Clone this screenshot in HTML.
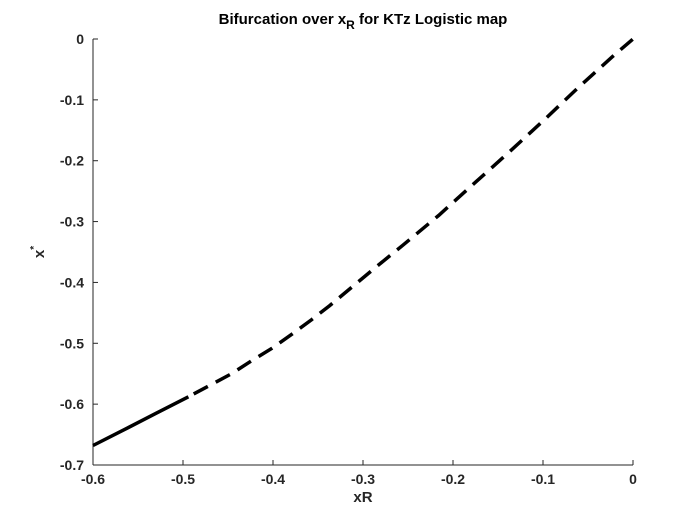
<!DOCTYPE html>
<html><head><meta charset="utf-8"><style>
body{margin:0;background:#fff}
svg text{font-family:"Liberation Sans",Arial,sans-serif;font-weight:bold;fill:#262626}
</style></head><body>
<svg id="chart" width="700" height="525" viewBox="0 0 700 525" xmlns="http://www.w3.org/2000/svg">
<rect width="700" height="525" fill="#fff"/>
<g id="axes"></g>
<g id="series"></g>
<text x="363" y="24" font-size="15" text-anchor="middle" style="fill:#000">Bifurcation over x<tspan font-size="12" dy="5">R</tspan><tspan dy="-5"> for KTz Logistic map</tspan></text>
<text x="363" y="502" font-size="15" text-anchor="middle">xR</text>
<g transform="translate(44,252) rotate(-90)"><text x="0" y="0" font-size="15" text-anchor="middle">x<tspan font-size="10" dy="-7">*</tspan></text></g>
</svg>
<script>
const xTicks=[-0.6,-0.5,-0.4,-0.3,-0.2,-0.1,0];
const yTicks=[0,-0.1,-0.2,-0.3,-0.4,-0.5,-0.6,-0.7];
const xTickLabels=["-0.6","-0.5","-0.4","-0.3","-0.2","-0.1","0"];
const yTickLabels=["0","-0.1","-0.2","-0.3","-0.4","-0.5","-0.6","-0.7"];
const stableX=[-0.6,-0.564,-0.53,-0.494];
const stableY=[-0.668,-0.641,-0.615,-0.588];
const unstableX=[-0.494,-0.47,-0.446,-0.424,-0.401,-0.379,-0.357,-0.337,-0.311,-0.285,-0.255,-0.216,-0.177,-0.137,-0.098,-0.061,-0.022,0];
const unstableY=[-0.588,-0.569,-0.550,-0.529,-0.508,-0.485,-0.461,-0.438,-0.406,-0.374,-0.338,-0.290,-0.238,-0.185,-0.132,-0.080,-0.028,0];
const X0=93,X1=633,Y0=39,Y1=465;
const sx=v=>X0+(v-(-0.6))/(0-(-0.6))*(X1-X0);
const sy=v=>Y0+(0-v)/(0-(-0.7))*(Y1-Y0);
const NS="http://www.w3.org/2000/svg";
const axes=document.getElementById('axes');
function mk(tag,attrs,parent){const e=document.createElementNS(NS,tag);for(const k in attrs)e.setAttribute(k,attrs[k]);parent.appendChild(e);return e;}
let ax=mk('line',{x1:X0,y1:Y1,x2:X1,y2:Y1,stroke:'#262626','stroke-width':1},axes);


let ay=mk('line',{x1:X0,y1:Y0,x2:X0,y2:Y1,stroke:'#262626','stroke-width':1},axes);


xTicks.forEach((v,i)=>{
 const x=sx(v);
 const t=mk('line',{x1:x,y1:Y1,x2:x,y2:Y1-5,stroke:'#262626'},axes);
 
 
 const l=mk('text',{x:x,y:Y1+19,'font-size':14,'text-anchor':'middle'},axes);
 l.textContent=xTickLabels[i];
 
 
});
yTicks.forEach((v,i)=>{
 const y=sy(v);
 const t=mk('line',{x1:X0,y1:y,x2:X0+5,y2:y,stroke:'#262626'},axes);
 
 
 const l=mk('text',{x:X0-9,y:y+5,'font-size':14,'text-anchor':'end'},axes);
 l.textContent=yTickLabels[i];
 
 
});
const series=document.getElementById('series');
function pts(xs,ys){return xs.map((x,i)=>sx(x).toFixed(1)+','+sy(ys[i]).toFixed(1)).join(' ');}
const s1=mk('polyline',{points:pts(stableX,stableY),fill:'none',stroke:'#000','stroke-width':3.5,'stroke-linejoin':'round'},series);


const s2=mk('polyline',{points:pts(unstableX,unstableY),fill:'none',stroke:'#000','stroke-width':3.5,'stroke-dasharray':'16 9','stroke-dashoffset':'19'},series);


</script>
</body></html>
